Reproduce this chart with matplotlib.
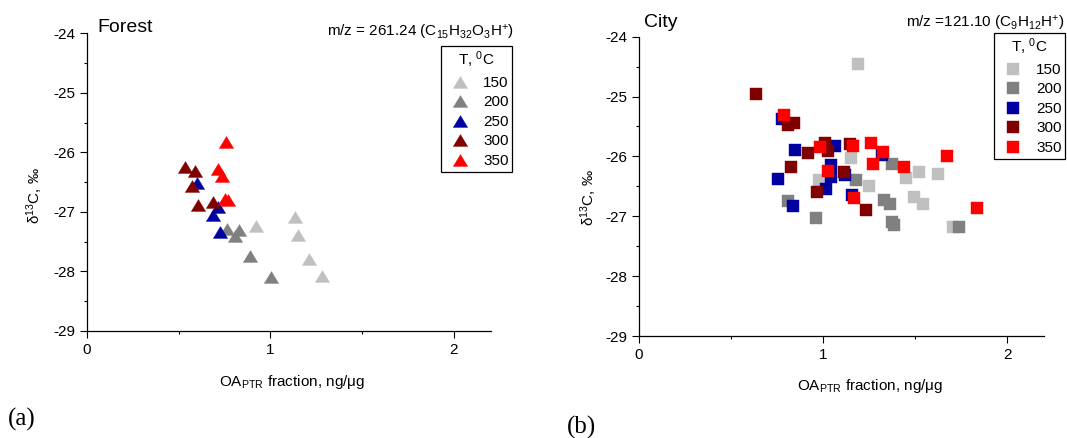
import matplotlib
matplotlib.use('Agg')
import matplotlib.pyplot as plt

plt.rcParams['font.family'] = ['Liberation Sans', 'DejaVu Sans']
plt.rcParams['mathtext.default'] = 'regular'
plt.rcParams['axes.unicode_minus'] = False

# ---------------- data ----------------
temps = ['150', '200', '250', '300', '350']
colors = ['#C0C0C0', '#808080', '#0000A0', '#800000', '#FF0000']

# Forest, m/z = 261.24
forest_150_x = [0.92, 1.136, 1.151, 1.209, 1.283]
forest_150_y = [-27.23, -27.09, -27.38, -27.79, -28.07]
forest_200_x = [0.762, 0.831, 0.808, 0.887, 1.002]
forest_200_y = [-27.29, -27.30, -27.41, -27.74, -28.09]
forest_250_x = [0.599, 0.713, 0.688, 0.726]
forest_250_y = [-26.52, -26.92, -27.05, -27.34]
forest_300_x = [0.537, 0.590, 0.575, 0.604, 0.690]
forest_300_y = [-26.25, -26.32, -26.57, -26.89, -26.83]
forest_350_x = [0.757, 0.713, 0.739, 0.751, 0.768]
forest_350_y = [-25.83, -26.28, -26.40, -26.79, -26.80]

# City, m/z = 121.10
city_150_x = [1.187, 1.153, 0.976, 1.249, 1.450, 1.520, 1.622, 1.495, 1.542, 1.707]
city_150_y = [-24.46, -26.03, -26.39, -26.49, -26.36, -26.26, -26.29, -26.68, -26.79, -27.18]
city_200_x = [1.376, 1.176, 0.811, 0.963, 1.332, 1.365, 1.372, 1.386, 1.738]
city_200_y = [-26.12, -26.39, -26.75, -27.03, -26.72, -26.79, -27.09, -27.15, -27.18]
city_250_x = [0.778, 0.845, 0.753, 0.838, 1.066, 1.044, 1.041, 1.014, 1.119, 1.158, 1.319]
city_250_y = [-25.38, -25.90, -26.38, -26.83, -25.83, -26.14, -26.34, -26.55, -26.31, -26.64, -25.98]
city_300_x = [0.633, 0.807, 0.842, 0.825, 0.919, 1.012, 1.026, 0.965, 1.146, 1.115, 1.234]
city_300_y = [-24.95, -25.48, -25.45, -26.18, -25.95, -25.78, -25.91, -26.60, -25.79, -26.26, -26.90]
city_350_x = [0.789, 0.985, 1.164, 1.258, 1.323, 1.026, 1.271, 1.441, 1.674, 1.166, 1.834]
city_350_y = [-25.31, -25.84, -25.82, -25.78, -25.92, -26.24, -26.12, -26.18, -25.99, -26.69, -26.86]

forest_x = [forest_150_x, forest_200_x, forest_250_x, forest_300_x, forest_350_x]
forest_y = [forest_150_y, forest_200_y, forest_250_y, forest_300_y, forest_350_y]
city_x = [city_150_x, city_200_x, city_250_x, city_300_x, city_350_x]
city_y = [city_150_y, city_200_y, city_250_y, city_300_y, city_350_y]

# ---------------- figure ----------------
W, H = 1067, 438
fig = plt.figure(figsize=(W / 100, H / 100), dpi=100)

def px_axes(l, t, r, b):
    return fig.add_axes([l / W, 1 - b / H, (r - l) / W, (b - t) / H])

axL = px_axes(86.7, 33.3, 490.7, 331)
axR = px_axes(639, 36.7, 1044.3, 336)

tri = [(-1, -0.83), (1, -0.83), (0, 0.83), (-1, -0.83)]

for xs, ys, c, t in zip(forest_x, forest_y, colors, temps):
    axL.plot(xs, ys, ls='none', marker=tri, ms=10.3, mfc=c, mec=c, mew=0.3, label=t)
for xs, ys, c, t in zip(city_x, city_y, colors, temps):
    axR.plot(xs, ys, ls='none', marker='s', ms=8.0, mfc=c, mec=c, mew=0.3, label=t)

for ax in (axL, axR):
    ax.set_xlim(0, 2.2)
    ax.set_ylim(-29, -24)
    ax.set_xticks([0, 1, 2])
    ax.set_xticks([0.5, 1.5], minor=True)
    ax.set_yticks([-29, -28, -27, -26, -25, -24])
    ax.set_yticks([-28.5, -27.5, -26.5, -25.5, -24.5], minor=True)
    ax.spines['top'].set_visible(False)
    ax.spines['right'].set_visible(False)
    for s in ('left', 'bottom'):
        ax.spines[s].set_linewidth(0.9)
    ax.tick_params(which='major', direction='out', length=5, width=0.8,
                   labelsize=11, pad=3.5)
    ax.tick_params(which='minor', direction='out', length=2.5, width=0.8)

# legends
def make_legend(ax, x0, y0):
    leg = ax.legend(title='T, $^0$C', loc='upper left',
                    bbox_to_anchor=(x0 / W, 1 - y0 / H), bbox_transform=fig.transFigure,
                    borderaxespad=0, fontsize=11, title_fontsize=11, frameon=True,
                    fancybox=False, framealpha=1, edgecolor='black',
                    handlelength=2.0, handletextpad=0.5, labelspacing=0.36,
                    borderpad=0.25, numpoints=1)
    leg.get_frame().set_linewidth(0.9)
    return leg

make_legend(axL, 441, 46)
make_legend(axR, 994, 33)

# texts
fig.text(97 / W, 1 - 32.3 / H, 'Forest', fontsize=14, ha='left', va='baseline')
fig.text(644 / W, 1 - 26.7 / H, 'City', fontsize=14, ha='left', va='baseline')
fig.text(514 / W, 1 - 36.5 / H, 'm/z = 261.24 (C$_{15}$H$_{32}$O$_{3}$H$^{+}$)',
         fontsize=11, ha='right', va='baseline')
fig.text(1065 / W, 1 - 27.3 / H, 'm/z =121.10 (C$_{9}$H$_{12}$H$^{+}$)',
         fontsize=11, ha='right', va='baseline')

fig.text(35 / W, 1 - 195 / H, 'δ$^{13}$C, ‰', fontsize=11, rotation=90,
         ha='center', va='center')
fig.text(589 / W, 1 - 197 / H, 'δ$^{13}$C, ‰', fontsize=11, rotation=90,
         ha='center', va='center')

fig.text(292 / W, 1 - 382 / H, 'OA$_{PTR}$ fraction, ng/μg', fontsize=11,
         ha='center', va='center')
fig.text(870 / W, 1 - 386 / H, 'OA$_{PTR}$ fraction, ng/μg', fontsize=11,
         ha='center', va='center')

fig.text(22 / W, 1 - 419 / H, '(a)', fontsize=18, family='Liberation Serif',
         ha='center', va='center')
fig.text(582 / W, 1 - 427 / H, '(b)', fontsize=18, family='Liberation Serif',
         ha='center', va='center')

fig.savefig('out.png', dpi=100)
